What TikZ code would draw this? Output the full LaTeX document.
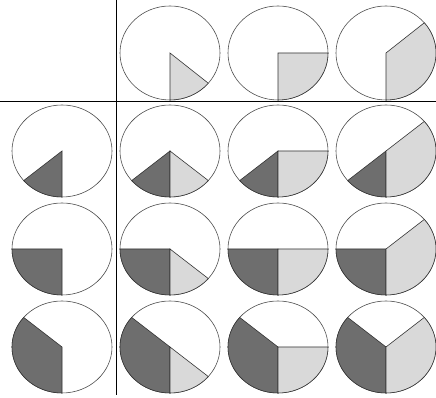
\documentclass[tikz,border=0pt]{standalone}
\usepackage{tikz}

\begin{document}
\begin{tikzpicture}[
    x=0.03cm, y=0.03cm,
    rim/.style={draw=black!70, line width=0.5pt},
    darkpart/.style={fill=black!57, draw=black!80, line width=0.5pt},
    lightpart/.style={fill=black!15, draw=black!80, line width=0.5pt},
    axis/.style={draw=black, line width=0.8pt}
]
\useasboundingbox (0,0) rectangle (436,398);

% header row: light sector only
\foreach \cx/\la [count=\i] in {170/-40, 278/0, 386/40} {
  \draw[rim, fill=white] (\cx,345) ellipse[x radius=50, y radius=47];
  \filldraw[lightpart] (\cx,345) -- ++(0,-47) arc[start angle=-90, end angle=\la, x radius=50, y radius=47] -- cycle;
}

% header column: dark sector only
\foreach \cy/\da [count=\j] in {247/-140, 149/-180, 51/-220} {
  \draw[rim, fill=white] (62,\cy) ellipse[x radius=50, y radius=46];
  \filldraw[darkpart] (62,\cy) -- ++(0,-46) arc[start angle=-90, end angle=\da, x radius=50, y radius=46] -- cycle;
}

% combined cells
\foreach \cy/\da in {247/-140, 149/-180, 51/-220} {
  \foreach \cx/\la in {170/-40, 278/0, 386/40} {
    \draw[rim, fill=white] (\cx,\cy) ellipse[x radius=50, y radius=46];
    \filldraw[darkpart] (\cx,\cy) -- ++(0,-46) arc[start angle=-90, end angle=\da, x radius=50, y radius=46] -- cycle;
    \filldraw[lightpart] (\cx,\cy) -- ++(0,-46) arc[start angle=-90, end angle=\la, x radius=50, y radius=46] -- cycle;
  }
}

% separating lines
\coordinate (vtop) at (116,398);
\coordinate (vbot) at (116,3);
\coordinate (hleft) at (0,297);
\coordinate (hright) at (436,297);
\draw[axis] (vtop) -- (vbot);
\draw[axis] (hleft) -- (hright);
\end{tikzpicture}
\end{document}
